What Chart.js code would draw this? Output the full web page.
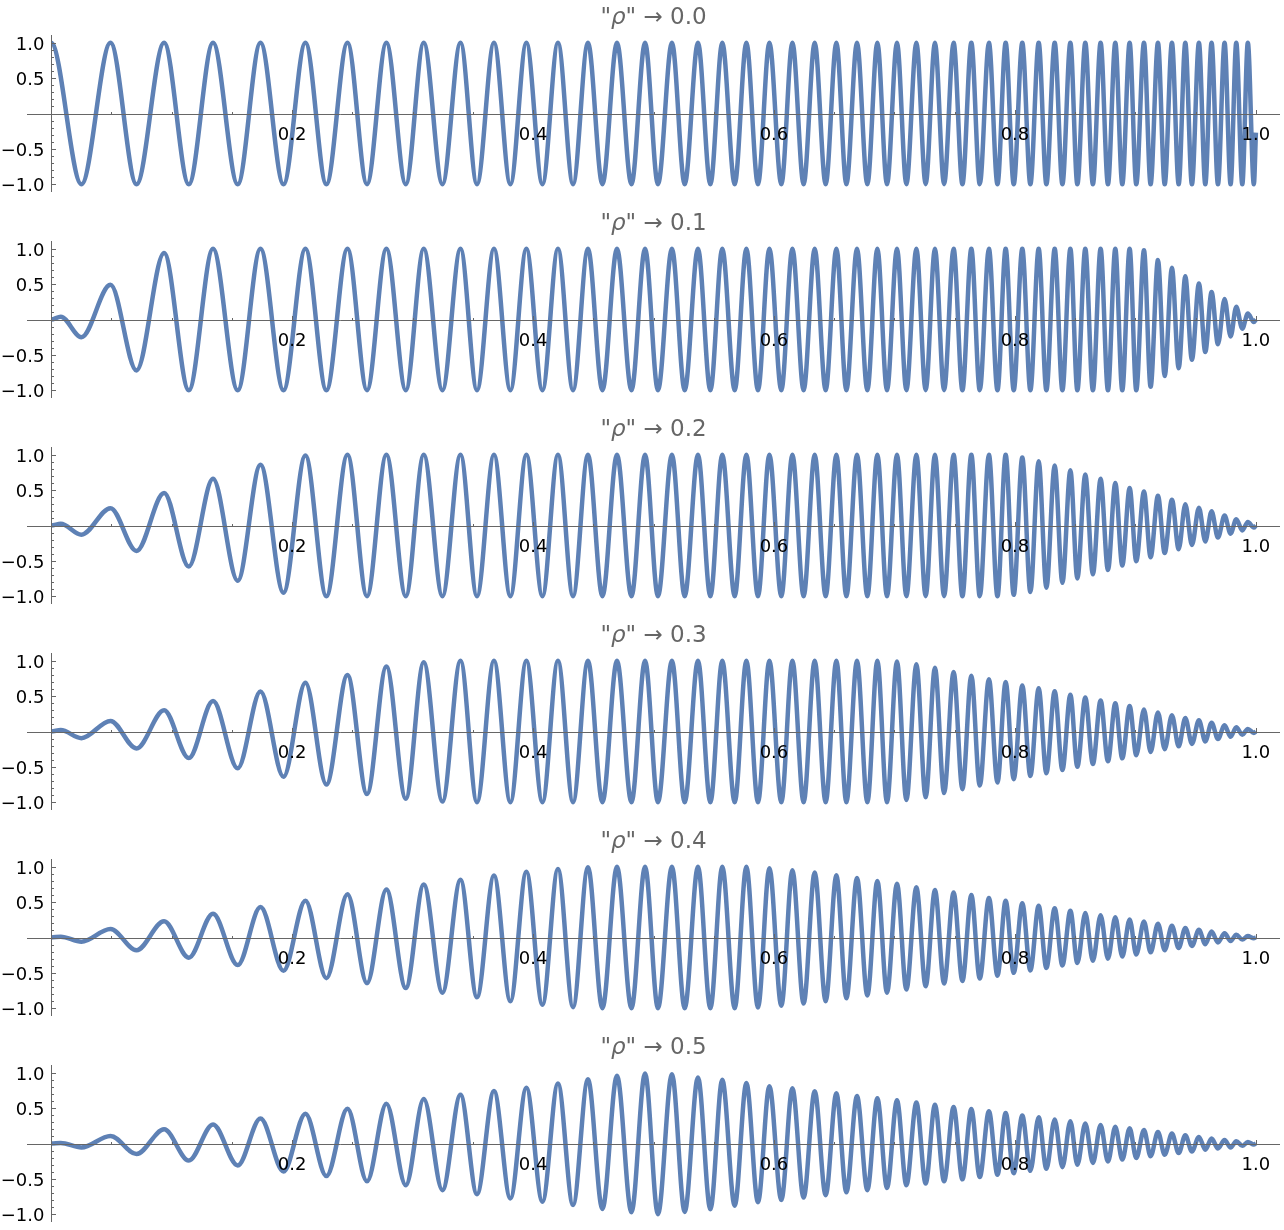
<!DOCTYPE html>
<html>
<head>
<meta charset="utf-8">
<script src="https://cdn.jsdelivr.net/npm/chart.js@4.4.1/dist/chart.umd.min.js"></script>
<style>
  html, body { margin: 0; padding: 0; background: #fff; }
  body { width: 1284px; height: 1230px; overflow: hidden; position: relative; }
  .panel { position: absolute; left: 0; width: 1284px; height: 206px; }
</style>
</head>
<body>
<script>
// x of every max / min of the chirp (same in all panels).
// The first entry lies just left of x = 0; it only shapes the start and is clipped away.
const extremaX = [
  -0.008, 0, 0.008, 0.0252, 0.0493, 0.0709, 0.0938, 0.1143, 0.1344, 0.1549, 0.1738,
  0.1929, 0.2111, 0.2285, 0.2460, 0.2622, 0.2783, 0.2944, 0.3093, 0.3248, 0.3398,
  0.3535, 0.3676, 0.3812, 0.3945, 0.4078, 0.4207, 0.4332, 0.4456, 0.4576, 0.4697,
  0.4817, 0.4930, 0.5037, 0.5153, 0.5259, 0.5369, 0.5472, 0.5571, 0.5674, 0.5771,
  0.5867, 0.5962, 0.6061, 0.6153, 0.6246, 0.6338, 0.6429, 0.6518, 0.6601, 0.6689,
  0.6775, 0.6858, 0.6938, 0.7021, 0.7099, 0.7182, 0.7259, 0.7336, 0.7412, 0.7491,
  0.7564, 0.7638, 0.7708, 0.7784, 0.7855, 0.7923, 0.7990, 0.8061, 0.8128, 0.8197,
  0.8261, 0.8330, 0.8394, 0.8460, 0.8518, 0.8584, 0.8647, 0.8711, 0.8772, 0.8833,
  0.8891, 0.8952, 0.9007, 0.9071, 0.9126, 0.9187, 0.9243, 0.9303, 0.9359, 0.9414,
  0.9469, 0.9527, 0.9580, 0.9632, 0.9685, 0.9740, 0.9790, 0.9837, 0.9887, 0.9933,
  0.9983, 1.0
];

const rhoLabels = ['0.0', '0.1', '0.2', '0.3', '0.4', '0.5'];

// y at each of those x, one list per panel (null = no point there)
const rho00 = [
  0.53, 1, null, -1, 1, -1, 1, -1, 1, -1, 1,
  -1, 1, -1, 1, -1, 1, -1, 1, -1, 1,
  -1, 1, -1, 1, -1, 1, -1, 1, -1, 1,
  -1, 1, -1, 1, -1, 1, -1, 1, -1, 1,
  -1, 1, -1, 1, -1, 1, -1, 1, -1, 1,
  -1, 1, -1, 1, -1, 1, -1, 1, -1, 1,
  -1, 1, -1, 1, -1, 1, -1, 1, -1, 1,
  -1, 1, -1, 1, -1, 1, -1, 1, -1, 1,
  -1, 1, -1, 1, -1, 1, -1, 1, -1, 1,
  -1, 1, -1, 1, -1, 1, -1, 1, -1, 1,
  -1, -0.27
];
const rho01 = [
  0.04, 0, 0.04, -0.25, 0.49, -0.72, 0.94, -1, 1, -1, 1,
  -1, 1, -1, 1, -1, 1, -1, 1, -1, 1,
  -1, 1, -1, 1, -1, 1, -1, 1, -1, 1,
  -1, 1, -1, 1, -1, 1, -1, 1, -1, 1,
  -1, 1, -1, 1, -1, 1, -1, 1, -1, 1,
  -1, 1, -1, 1, -1, 1, -1, 1, -1, 1,
  -1, 1, -1, 1, -1, 1, -1, 1, -1, 1,
  -1, 1, -1, 1, -1, 1, -1, 1, -1, 1,
  -1, 1, -1, 0.98, -0.95, 0.84, -0.80, 0.73, -0.69, 0.61,
  -0.57, 0.51, -0.46, 0.39, -0.35, 0.29, -0.24, 0.18, -0.13, 0.085,
  -0.035, 0
];
const rho02 = [
  0.025, 0, 0.025, -0.13, 0.245, -0.36, 0.46, -0.58, 0.66, -0.78, 0.86,
  -0.95, 0.99, -1, 1, -1, 1, -1, 1, -1, 1,
  -1, 1, -1, 1, -1, 1, -1, 1, -1, 1,
  -1, 1, -1, 1, -1, 1, -1, 1, -1, 1,
  -1, 1, -1, 1, -1, 1, -1, 1, -1, 1,
  -1, 1, -1, 1, -1, 1, -1, 1, -1, 1,
  -1, 1, -1, 1, -1, 1, -0.98, 0.96, -0.94, 0.91,
  -0.88, 0.85, -0.81, 0.78, -0.75, 0.72, -0.69, 0.66, -0.63, 0.60,
  -0.565, 0.53, -0.505, 0.48, -0.45, 0.42, -0.39, 0.365, -0.335, 0.30,
  -0.275, 0.25, -0.225, 0.20, -0.17, 0.14, -0.115, 0.09, -0.07, 0.05,
  -0.03, 0
];
const rho03 = [
  0.02, 0, 0.02, -0.094, 0.15, -0.24, 0.30, -0.376, 0.43, -0.52, 0.565,
  -0.64, 0.69, -0.75, 0.80, -0.885, 0.92, -0.95, 0.98, -0.99, 1,
  -1, 1, -1, 1, -1, 1, -1, 1, -1, 1,
  -1, 1, -1, 1, -1, 1, -1, 1, -1, 1,
  -1, 1, -1, 1, -1, 1, -1, 1, -1, 1,
  -1, 1, -1, 0.99, -0.97, 0.95, -0.93, 0.90, -0.87, 0.84,
  -0.815, 0.79, -0.765, 0.74, -0.72, 0.70, -0.675, 0.65, -0.63, 0.61,
  -0.59, 0.57, -0.545, 0.52, -0.50, 0.48, -0.46, 0.44, -0.42, 0.40,
  -0.38, 0.36, -0.335, 0.31, -0.29, 0.27, -0.25, 0.23, -0.21, 0.19,
  -0.175, 0.16, -0.14, 0.125, -0.105, 0.09, -0.075, 0.06, -0.045, 0.035,
  -0.02, 0
];
const rho04 = [
  0.012, 0, 0.012, -0.06, 0.12, -0.18, 0.23, -0.285, 0.336, -0.39, 0.43,
  -0.47, 0.52, -0.575, 0.61, -0.645, 0.68, -0.715, 0.75, -0.78, 0.815,
  -0.845, 0.875, -0.90, 0.93, -0.95, 0.97, -0.985, 0.995, -1, 1,
  -1, 1, -1, 1, -1, 1, -1, 1, -1, 1,
  -0.99, 0.98, -0.965, 0.95, -0.935, 0.92, -0.90, 0.88, -0.86, 0.84,
  -0.82, 0.80, -0.78, 0.76, -0.735, 0.71, -0.69, 0.67, -0.65, 0.635,
  -0.615, 0.60, -0.58, 0.56, -0.54, 0.52, -0.50, 0.485, -0.465, 0.45,
  -0.43, 0.415, -0.395, 0.38, -0.36, 0.345, -0.33, 0.315, -0.30, 0.285,
  -0.27, 0.255, -0.24, 0.225, -0.21, 0.195, -0.18, 0.165, -0.15, 0.135,
  -0.12, 0.11, -0.095, 0.085, -0.07, 0.06, -0.05, 0.04, -0.03, 0.02,
  -0.01, 0
];
const rho05 = [
  0.008, 0, 0.008, -0.056, 0.107, -0.149, 0.20, -0.242, 0.27, -0.31, 0.353,
  -0.395, 0.42, -0.46, 0.49, -0.535, 0.563, -0.59, 0.628, -0.66, 0.69,
  -0.716, 0.744, -0.776, 0.79, -0.823, 0.85, -0.87, 0.907, -0.925, 0.958,
  -0.972, 0.99, -1.0, 0.98, -0.967, 0.935, -0.93, 0.90, -0.88, 0.856,
  -0.83, 0.81, -0.80, 0.78, -0.765, 0.74, -0.73, 0.71, -0.69, 0.67,
  -0.66, 0.64, -0.628, 0.61, -0.59, 0.58, -0.567, 0.547, -0.535, 0.516,
  -0.507, 0.488, -0.474, 0.456, -0.442, 0.432, -0.42, 0.395, -0.386, 0.372,
  -0.358, 0.34, -0.335, 0.316, -0.30, 0.284, -0.274, 0.26, -0.256, 0.237,
  -0.228, 0.214, -0.205, 0.19, -0.18, 0.163, -0.158, 0.14, -0.135, 0.116,
  -0.112, 0.093, -0.088, 0.07, -0.07, 0.05, -0.056, 0.033, -0.033, 0.02,
  -0.014, 0
];
const series = [rho00, rho01, rho02, rho03, rho04, rho05];

// ticks
const xMajorTicks = [0.2, 0.4, 0.6, 0.8, 1.0];
const xTickLabels = ['0.2', '0.4', '0.6', '0.8', '1.0'];
const xMinorTicks = [0.05, 0.1, 0.15, 0.25, 0.3, 0.35, 0.45, 0.5, 0.55, 0.65, 0.7, 0.75, 0.85, 0.9, 0.95];
const yMajorTicks = [-1.0, -0.5, 0.5, 1.0];
const yTickLabels = ['\u22121.0', '\u22120.5', '0.5', '1.0'];
const yMinorTicks = [-0.9, -0.8, -0.7, -0.6, -0.4, -0.3, -0.2, -0.1, 0.1, 0.2, 0.3, 0.4, 0.6, 0.7, 0.8, 0.9];

const LINE_COLOR = '#5e81b5';
const AXIS_COLOR = '#666666';
const TITLE_COLOR = '#666666';
const FONT = '"DejaVu Sans", sans-serif';
const PANEL_H = 206;

Chart.defaults.font.family = FONT;

// Mathematica-style axes: lines through the origin, ticks pointing inward,
// plus the panel title with an italic rho
const mmaAxes = {
    id: 'mmaAxes',
    afterDatasetsDraw(chart) {
        const {ctx, chartArea: area, scales: {x, y}} = chart;
        const ox = Math.round(x.getPixelForValue(0)) + 0.5;
        const oy = Math.round(y.getPixelForValue(0)) + 0.5;

        ctx.save();
        ctx.strokeStyle = AXIS_COLOR;
        ctx.lineWidth = 1;
        ctx.beginPath();
        ctx.moveTo(area.left, oy);
        ctx.lineTo(area.right, oy);
        ctx.moveTo(ox, area.top);
        ctx.lineTo(ox, area.bottom);

        xMinorTicks.forEach(v => {
            const px = Math.round(x.getPixelForValue(v)) + 0.5;
            ctx.moveTo(px, oy);
            ctx.lineTo(px, oy - 2.5);
        });
        xMajorTicks.forEach(v => {
            const px = Math.round(x.getPixelForValue(v)) + 0.5;
            ctx.moveTo(px, oy);
            ctx.lineTo(px, oy - 4.5);
        });
        yMinorTicks.forEach(v => {
            const py = Math.round(y.getPixelForValue(v)) + 0.5;
            ctx.moveTo(ox, py);
            ctx.lineTo(ox + 2.5, py);
        });
        yMajorTicks.forEach(v => {
            const py = Math.round(y.getPixelForValue(v)) + 0.5;
            ctx.moveTo(ox, py);
            ctx.lineTo(ox + 4.5, py);
        });
        ctx.stroke();

        ctx.fillStyle = '#000';
        ctx.font = '18px ' + FONT;
        ctx.textBaseline = 'alphabetic';
        ctx.textAlign = 'center';
        xMajorTicks.forEach((v, i) => {
            ctx.fillText(xTickLabels[i], x.getPixelForValue(v), oy + 25);
        });
        ctx.textAlign = 'right';
        yMajorTicks.forEach((v, i) => {
            ctx.fillText(yTickLabels[i], ox - 7, y.getPixelForValue(v) + 7);
        });

        // title: "ρ" → value
        const pieces = [
            {t: '"', f: '23px ' + FONT},
            {t: '\u03c1', f: 'italic 23px ' + FONT},
            {t: '" \u2192 ' + chart.options.plugins.mmaAxes.rho, f: '23px ' + FONT}
        ];
        let total = 0;
        pieces.forEach(p => { ctx.font = p.f; p.w = ctx.measureText(p.t).width; total += p.w; });
        let tx = (area.left + area.right) / 2 - total / 2;
        ctx.fillStyle = TITLE_COLOR;
        ctx.textAlign = 'left';
        pieces.forEach(p => { ctx.font = p.f; ctx.fillText(p.t, tx, 23.5); tx += p.w; });
        ctx.restore();
    }
};

series.forEach((ys, i) => {
    const box = document.createElement('div');
    box.className = 'panel';
    box.style.top = (i * PANEL_H) + 'px';
    const canvas = document.createElement('canvas');
    canvas.width = 1284;
    canvas.height = PANEL_H;
    box.appendChild(canvas);
    document.body.appendChild(box);

    const points = extremaX.map((x, k) => ({x: x, y: ys[k]}));

    new Chart(canvas.getContext('2d'), {
        type: 'line',
        data: {
            datasets: [{
                data: points,
                borderColor: LINE_COLOR,
                borderWidth: 4.5,
                borderJoinStyle: 'round',
                pointRadius: 0,
                fill: false,
                spanGaps: true,
                cubicInterpolationMode: 'monotone',
                // cut the curve at x = 0 (24 px inside the padded plot range)
                clip: {left: -24, top: 10, right: 10, bottom: 10}
            }]
        },
        options: {
            responsive: false,
            animation: false,
            devicePixelRatio: 1,
            layout: {
                padding: {left: 27, right: 4, top: 35, bottom: 14}
            },
            scales: {
                x: {type: 'linear', min: -0.02, max: 1.02, display: false},
                y: {type: 'linear', min: -1.11, max: 1.11, display: false}
            },
            plugins: {
                legend: {display: false},
                tooltip: {enabled: false},
                title: {display: false},
                mmaAxes: {rho: rhoLabels[i]}
            }
        },
        plugins: [mmaAxes]
    });
});
</script>
</body>
</html>
